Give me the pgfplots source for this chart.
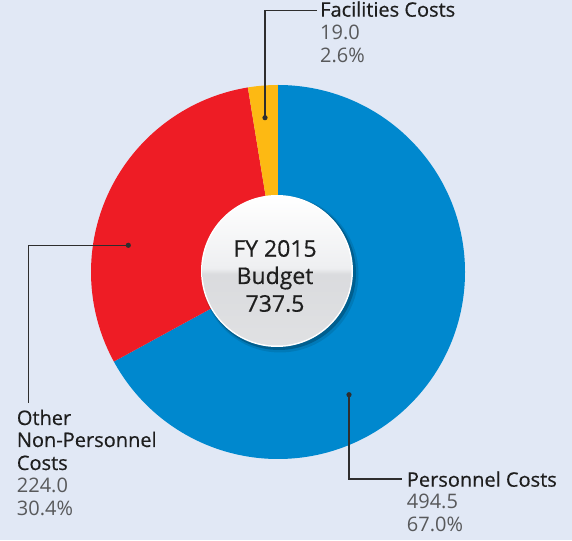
\documentclass[border=0pt]{standalone}
\usepackage{pgfplots}
\pgfplotsset{compat=1.18}
\usepackage{pgfplotstable}
\usepackage{fontspec}
\setmainfont{Open Sans}
\newfontfamily\medfont[FakeBold=0.5]{Open Sans}
\definecolor{bg}{HTML}{E1E8F5}
\definecolor{cblue}{HTML}{0088CE}
\definecolor{cred}{HTML}{EE1C25}
\definecolor{corange}{HTML}{FDB913}
\definecolor{ctext}{HTML}{1E1E1E}
\definecolor{cnum}{HTML}{58595B}
\definecolor{cline}{HTML}{2E2E2E}
\definecolor{gtop}{HTML}{FFFFFF}
\definecolor{gmid}{HTML}{EEEFF1}
\definecolor{gmid2}{HTML}{DADBDE}
\definecolor{gbot}{HTML}{E0E1E3}
\pgfdeclareverticalshading{glossy}{100bp}{color(0bp)=(gbot); color(25bp)=(gbot); color(49bp)=(gmid2); color(51bp)=(gmid); color(75bp)=(gtop); color(100bp)=(gtop)}
\tikzset{
  labstyle/.style={anchor=base west, inner sep=0pt, font=\fontsize{20}{23}\selectfont},
  titstyle/.style={anchor=base west, inner sep=0pt, text=ctext, font=\medfont\fontsize{20}{23}\selectfont},
  midstyle/.style={anchor=base, inner sep=0pt, text=ctext, font=\medfont\fontsize{23}{27}\selectfont},
}
\pgfplotstableread{
name value
Personnel 494.5
Other 224.0
Facilities 19.0
}\costs
\pgfplotstablegetelem{0}{value}\of\costs \let\vP\pgfplotsretval
\pgfplotstablegetelem{1}{value}\of\costs \let\vO\pgfplotsretval
\pgfplotstablegetelem{2}{value}\of\costs \let\vF\pgfplotsretval
\pgfmathsetmacro{\vT}{\vP+\vO+\vF}
\pgfmathsetmacro{\aA}{90}
\pgfmathsetmacro{\aB}{90-360*(\vP/\vT)}
\pgfmathsetmacro{\aC}{\aB-360*(\vO/\vT)}
\pgfmathsetmacro{\aD}{\aC-360*(\vF/\vT)}
\begin{document}
\begin{tikzpicture}
\begin{axis}[
  width=572pt, height=540pt, scale only axis,
  xmin=0, xmax=572, ymin=0, ymax=540,
  hide axis, clip=false,
]
\fill[bg] (axis cs:0,0) rectangle (axis cs:572,540);
% slices
\fill[cblue] (axis cs:278,268) -- ++(\aA:187pt) arc[start angle=\aA, end angle=\aB, radius=187pt] -- cycle;
\fill[cred] (axis cs:278,268) -- ++(\aB:187pt) arc[start angle=\aB, end angle=\aC, radius=187pt] -- cycle;
\fill[corange] (axis cs:278,268) -- ++(\aC:187pt) arc[start angle=\aC, end angle=\aD, radius=187pt] -- cycle;
% centre
\fill[black, opacity=0.22] (axis cs:279,267) circle[radius=77pt];
\fill[black, opacity=0.10] (axis cs:280,266) circle[radius=78.5pt];
\fill[white] (axis cs:277,269) circle[radius=76pt];
\shade[shading=glossy] (axis cs:277,269) circle[radius=74.5pt];
\node[midstyle] at (axis cs:275,283.3) {FY 2015};
\node[midstyle] at (axis cs:275,256) {Budget};
\node[midstyle] at (axis cs:275,228.3) {737.5};
% leaders
\draw[cline, line width=1.1pt] (axis cs:265,422.3) -- (axis cs:265,529.3) -- (axis cs:317,529.3);
\fill[cline] (axis cs:265,422.3) circle[radius=2.6pt];
\draw[cline, line width=1.1pt] (axis cs:128.3,294.7) -- (axis cs:28.3,294.7) -- (axis cs:28.3,137);
\fill[cline] (axis cs:128.3,294.7) circle[radius=2.6pt];
\draw[cline, line width=1.1pt] (axis cs:349,145.3) -- (axis cs:349,61) -- (axis cs:401.7,61);
\fill[cline] (axis cs:349,145.3) circle[radius=2.6pt];
% labels
\node[titstyle] at (axis cs:320,523.3) {Facilities Costs};
\node[labstyle, text=cnum] at (axis cs:320,500) {19.0};
\node[labstyle, text=cnum] at (axis cs:320,477.3) {2.6\%};
\node[titstyle] at (axis cs:16.7,115) {Other};
\node[titstyle] at (axis cs:16.7,93) {Non-Personnel};
\node[titstyle] at (axis cs:16.7,70) {Costs};
\node[labstyle, text=cnum] at (axis cs:16.7,47) {224.0};
\node[labstyle, text=cnum] at (axis cs:16.7,24) {30.4\%};
\node[titstyle] at (axis cs:406.7,53.3) {Personnel Costs};
\node[labstyle, text=cnum] at (axis cs:406.7,31) {494.5};
\node[labstyle, text=cnum] at (axis cs:406.7,8.3) {67.0\%};
\end{axis}
\end{tikzpicture}
\end{document}
